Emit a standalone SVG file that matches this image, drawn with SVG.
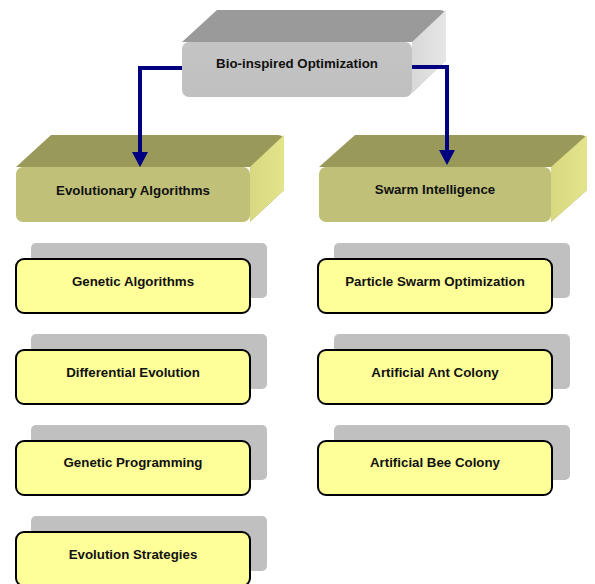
<svg xmlns="http://www.w3.org/2000/svg" width="595" height="584" viewBox="0 0 595 584">
<defs>
<linearGradient id="gTopG" x1="0" y1="0" x2="0" y2="1"><stop offset="0" stop-color="#9a9a9a"/><stop offset="0.8" stop-color="#999999"/><stop offset="1" stop-color="#b0b0b0"/></linearGradient>
<linearGradient id="gFrontG" x1="0" y1="0" x2="0" y2="1"><stop offset="0" stop-color="#c4c4c4"/><stop offset="1" stop-color="#c0c0c0"/></linearGradient>
<linearGradient id="gSideG" x1="0" y1="0" x2="1" y2="0"><stop offset="0" stop-color="#d8d8d8"/><stop offset="1" stop-color="#e6e6e6"/></linearGradient>
<linearGradient id="gTopO" x1="0" y1="0" x2="0" y2="1"><stop offset="0" stop-color="#999959"/><stop offset="0.8" stop-color="#999959"/><stop offset="1" stop-color="#aeae68"/></linearGradient>
<linearGradient id="gSideO" x1="0" y1="0" x2="1" y2="0"><stop offset="0" stop-color="#d8d880"/><stop offset="1" stop-color="#e4e48c"/></linearGradient>
</defs>
<style>
.t{font-family:"Liberation Sans",Arial,sans-serif;font-weight:bold;font-size:13.3px;fill:#111111;text-anchor:middle}
.sh{fill:#c0c0c0}
.yb{fill:#ffff99;stroke:#000;stroke-width:2}
.fo{fill:#c0c078}
.conn{fill:none;stroke:#000080;stroke-width:4}
.head{fill:#000080}
</style>

<g id="bio-inspired-optimization">
<path d="M182,42 L217,10 L440,10 Q446,10 446,16 L446,60 L412,93 L412,42 Z" fill="url(#gTopG)"/>
<path d="M412,42 L446,10 L446,60 L412,93 Z" fill="url(#gSideG)"/>
<rect x="182" y="42" width="230" height="55" rx="7" fill="url(#gFrontG)"/>
<text class="t" x="297" y="68">Bio-inspired Optimization</text>
</g>

<g id="evolutionary-algorithms">
<path d="M16,167 L51,135 L278,135 Q284,135 284,141 L284,190 L250,222 L250,167 Z" fill="url(#gTopO)"/>
<path d="M250,167 L284,135 L284,190 L250,222 Z" fill="url(#gSideO)"/>
<rect x="16" y="167" width="234" height="55" rx="7" class="fo"/>
<text class="t" x="133" y="195">Evolutionary Algorithms</text>
</g>

<g id="swarm-intelligence">
<path d="M319,167 L355,135 L581,135 Q587,135 587,141 L587,190 L551,222 L551,167 Z" fill="url(#gTopO)"/>
<path d="M551,167 L587,135 L587,190 L551,222 Z" fill="url(#gSideO)"/>
<rect x="319" y="167" width="232" height="55" rx="7" class="fo"/>
<text class="t" x="435" y="194">Swarm Intelligence</text>
</g>

<g id="genetic-algorithms">
<rect class="sh" x="31" y="243" width="236" height="55" rx="5"/>
<rect class="yb" x="16" y="259" width="234" height="54" rx="8"/>
<text class="t" x="133" y="286">Genetic Algorithms</text>
</g>
<g id="differential-evolution">
<rect class="sh" x="31" y="334" width="236" height="55" rx="5"/>
<rect class="yb" x="16" y="350" width="234" height="54" rx="8"/>
<text class="t" x="133" y="377">Differential Evolution</text>
</g>
<g id="genetic-programming">
<rect class="sh" x="31" y="425" width="236" height="55" rx="5"/>
<rect class="yb" x="16" y="441" width="234" height="54" rx="8"/>
<text class="t" x="133" y="467">Genetic Programming</text>
</g>
<g id="evolution-strategies">
<rect class="sh" x="31" y="516" width="236" height="55" rx="5"/>
<rect class="yb" x="16" y="532" width="234" height="54" rx="8"/>
<text class="t" x="133" y="559">Evolution Strategies</text>
</g>

<g id="particle-swarm-optimization">
<rect class="sh" x="334" y="243" width="236" height="55" rx="5"/>
<rect class="yb" x="318" y="259" width="234" height="54" rx="8"/>
<text class="t" x="435" y="286">Particle Swarm Optimization</text>
</g>
<g id="artificial-ant-colony">
<rect class="sh" x="334" y="334" width="236" height="55" rx="5"/>
<rect class="yb" x="318" y="350" width="234" height="54" rx="8"/>
<text class="t" x="435" y="377">Artificial Ant Colony</text>
</g>
<g id="artificial-bee-colony">
<rect class="sh" x="334" y="425" width="236" height="55" rx="5"/>
<rect class="yb" x="318" y="441" width="234" height="54" rx="8"/>
<text class="t" x="435" y="467">Artificial Bee Colony</text>
</g>

<g id="connectors">
<path class="conn" d="M182,68 L140,68 L140,153"/>
<polygon class="head" points="132,152 148,152 140,167"/>
<path class="conn" d="M412,67 L447,67 L447,151"/>
<polygon class="head" points="439,150 455,150 447,165"/>
</g>
</svg>
